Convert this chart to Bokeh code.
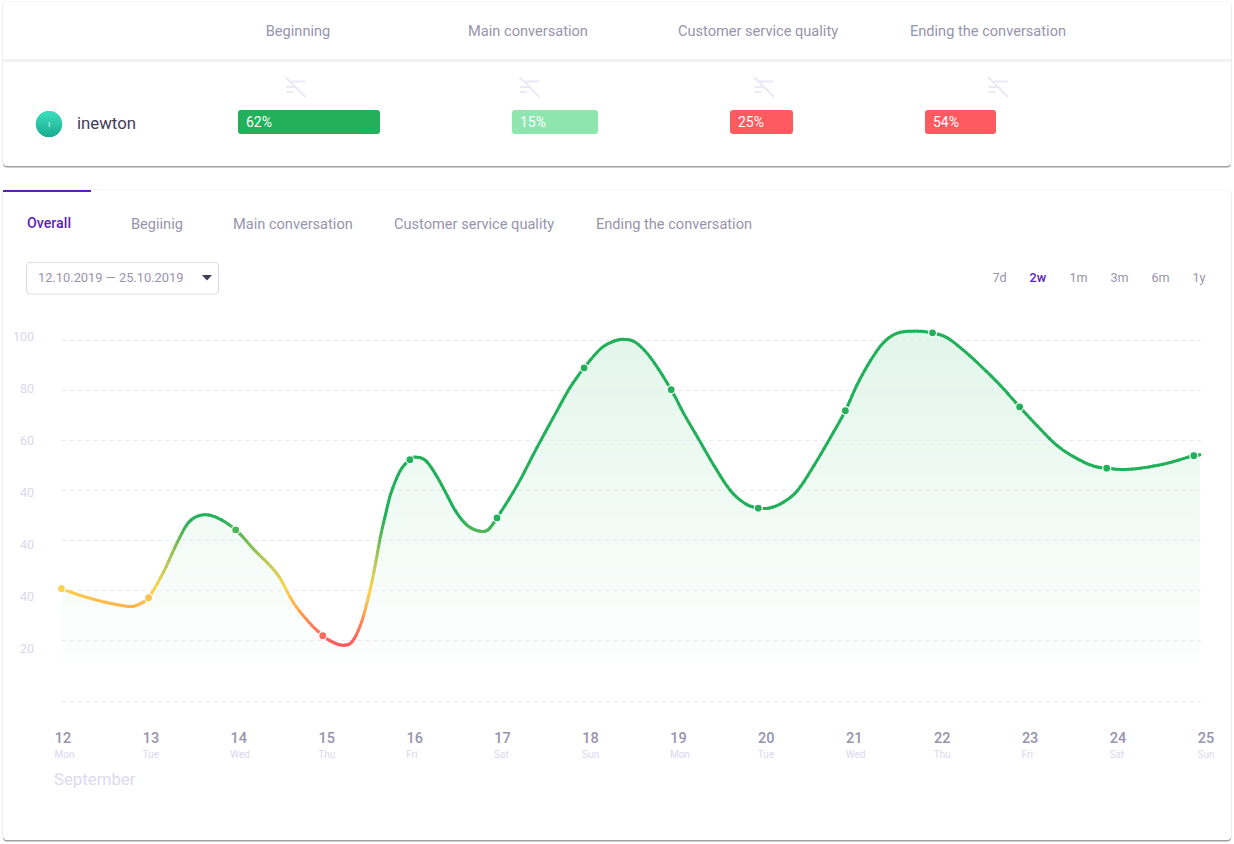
import numpy as np
from bokeh.core.properties import value
from bokeh.embed import file_html
from bokeh.models import ColumnDataSource, LinearColorMapper, Range1d
from bokeh.plotting import figure
from bokeh.resources import INLINE

# ---------- data ----------
columns = ["Beginning", "Main conversation", "Customer service quality", "Ending the conversation"]
agent = "inewton"
scores = [62, 15, 25, 54]
tabs = ["Begiinig", "Main conversation", "Customer service quality", "Ending the conversation"]
periods = ["7d", "2w", "1m", "3m", "6m", "1y"]
date_span = "12.10.2019 \u2014 25.10.2019"
month = "September"

days = [12, 13, 14, 15, 16, 17, 18, 19, 20, 21, 22, 23, 24, 25]
weekdays = ["Mon", "Tue", "Wed", "Thu", "Fri", "Sat", "Sun", "Mon", "Tue", "Wed", "Thu", "Fri", "Sat", "Sun"]
day_values = [33.8, 31.4, 49.5, 21.3, 68.2, 52.7, 92.7, 86.9, 55.3, 81.3, 102.05, 82.3, 65.95, 69.3]

y_tick_labels = ["100", "80", "60", "40", "40", "40", "20"]
y_tick_slots = [0, 1, 2, 3, 4, 5, 6]
grid_levels = [100, 86.67, 73.33, 60, 46.67, 33.33, 20, 3.73]

curve_days = [12.00, 12.22, 12.45, 12.65, 12.81, 12.91, 13.00, 13.17, 13.33, 13.46, 13.62, 13.79, 14.00,
              14.20, 14.48, 14.66, 14.84, 15.00, 15.12, 15.24, 15.34, 15.45, 15.55, 15.61, 15.66, 15.72,
              15.78, 15.89, 16.00, 16.06, 16.18, 16.29, 16.41, 16.52, 16.64, 16.75, 16.85, 16.91, 17.00,
              17.23, 17.46, 17.69, 17.84, 18.00, 18.19, 18.34, 18.46, 18.59, 18.76, 19.00, 19.14, 19.31,
              19.49, 19.68, 19.85, 20.00, 20.14, 20.29, 20.45, 20.64, 20.83, 21.00, 21.13, 21.29, 21.44,
              21.59, 21.79, 22.00, 22.17, 22.36, 22.51, 22.78, 23.00, 23.20, 23.43, 23.66, 23.85, 24.00,
              24.20, 24.43, 24.70, 25.00, 25.07]
curve_values = [33.8, 32.0, 30.5, 29.5, 29.1, 29.9, 31.4, 38.2, 46.2, 51.5, 53.5, 52.7, 49.5,
                44.5, 37.6, 30.2, 24.9, 21.3, 19.5, 18.75, 19.8, 25.3, 34.2, 41.1, 47.5, 53.6,
                59.1, 65.3, 68.2, 68.9, 68.0, 64.5, 59.5, 54.7, 51.1, 49.5, 49.1, 49.8, 52.7,
                61.3, 71.5, 81.3, 87.5, 92.7, 97.8, 99.8, 100.3, 99.5, 95.5, 86.9, 80.7, 73.9,
                66.7, 60.0, 56.5, 55.3, 55.4, 56.9, 60.0, 66.7, 74.2, 81.3, 88.0, 94.7, 99.5,
                101.9, 102.5, 102.05, 100.7, 97.3, 94.2, 88.0, 82.3, 77.3, 72.0, 68.5, 66.5, 65.95,
                65.6, 66.1, 67.3, 69.3, 69.5]

# ---------- page layout ----------
W, H = 1234, 844
DAY_PX, DAY0_PX = 87.1, 61.0
VAL_PX, VAL100_PX = 3.75, 340.0
INK, MUTED, FAINT, PURPLE = "#3f3c58", "#9794ad", "#dcd9ef", "#5a1fc0"
GREEN = "#22b05a"
FONT = "Roboto"
MEDIUM = "Roboto Medium"

p = figure(width=W, height=H, output_backend="svg", toolbar_location=None,
           x_axis_type=None, y_axis_type=None, min_border=0, outline_line_color=None,
           border_fill_color="white", background_fill_color="white",
           x_range=Range1d(12 - DAY0_PX / DAY_PX, 12 + (W - DAY0_PX) / DAY_PX),
           y_range=Range1d(100 - (H - VAL100_PX) / VAL_PX, 100 + VAL100_PX / VAL_PX))
p.extra_x_ranges = {
    "px": Range1d(0.5, W + 0.5),
    "xlab": Range1d(12 - 62.5 / 87.92, 12 + (W - 62.5) / 87.92),
}
p.extra_y_ranges = {
    "px": Range1d(H + 0.5, 0.5),
    "ylab": Range1d((H - 336) / 52, -336 / 52),
}
PX = dict(x_range_name="px", y_range_name="px")


def card(l, t, r, b):
    p.quad(left=[l - 1], right=[r + 1], top=[t - 0.5], bottom=[b + 1], fill_color="#eeeeee", line_color=None,
           border_radius=5, **PX)
    p.quad(left=[l], right=[r], top=[t + 4], bottom=[b + 1.4], fill_color="#a0a0a0", line_color=None,
           border_radius=4, **PX)
    p.quad(left=[l], right=[r], top=[t], bottom=[b], fill_color="white", line_color=None,
           border_radius=4, **PX)


def txt(x, y, s, size, color, font=FONT, align="left"):
    p.text(x=[x], y=[y], text=[s], text_font=value(font), text_font_size=f"{size}px", text_color=color,
           text_align=align, text_baseline="middle", **PX)


# ---------- top card ----------
card(3, 2, 1231, 166)
p.quad(left=[3], right=[1231], top=[59.5], bottom=[61], fill_color="#ececf0", line_color=None, **PX)
p.quad(left=[3], right=[1231], top=[61], bottom=[62.5], fill_color="#f8f8fa", line_color=None, **PX)
for s, cx in zip(columns, [298, 528, 758, 988]):
    txt(cx, 31.2, s, 14.6, MUTED, align="center")

for ix in [295.5, 529.5, 764, 998]:
    p.multi_line(xs=[[ix - 10, ix + 10], [ix - 4, ix + 9.5], [ix - 9.5, ix], [ix - 9.5, ix - 2.5]],
                 ys=[[77, 97], [81.5, 81.5], [87, 87], [92, 92]], line_color="#ebe9f5", line_width=2, **PX)

avatar_rows = np.arange(110.5, 137.5, 1.0)
avatar_half = np.sqrt(np.clip(13.2 ** 2 - (avatar_rows - 124) ** 2, 0, None))
avatar_t = (avatar_rows - 110.5) / 26.0
avatar_cols = ["#%02x%02x%02x" % (int(62 - 36 * t), int(224 - 52 * t), int(192 - 46 * t)) for t in avatar_t]
p.quad(left=49 - avatar_half, right=49 + avatar_half, top=avatar_rows - 0.6, bottom=avatar_rows + 0.6,
       fill_color=avatar_cols, line_color=None, **PX)
txt(49, 124, "I", 8, "#e6fbf6", align="center")
txt(77, 123.2, agent, 16.8, INK)

bar_left = [238, 512, 730, 925]
bar_right = [380, 598, 793, 996]
bar_colors = [GREEN, "#8fe5ae", "#ff5a5f", "#ff5a5f"]
p.quad(left=bar_left, right=bar_right, top=[110] * 4, bottom=[134] * 4, fill_color=bar_colors,
       line_color=None, border_radius=3, **PX)
for v, l in zip(scores, bar_left):
    txt(l + 8, 121.8, f"{v}%", 14, "white")

# ---------- bottom card ----------
card(3, 190, 1231, 840)
p.quad(left=[3], right=[91], top=[190], bottom=[192], fill_color=PURPLE, line_color=None, **PX)
txt(27, 223, "Overall", 14.2, PURPLE, font=MEDIUM)
for s, x in zip(tabs, [131, 233, 394, 596]):
    txt(x, 224.2, s, 14.6, MUTED)

p.quad(left=[26.5], right=[218.5], top=[262.5], bottom=[294], fill_color="white", line_color="#dcdcf0",
       line_width=1.2, border_radius=4, **PX)
txt(38, 277.8, date_span, 12.85, MUTED)
p.patch(x=[202, 212, 207], y=[275, 275, 280.5], fill_color=INK, line_color=None, **PX)
for s, x in zip(periods, [992.5, 1029.5, 1069.5, 1110.5, 1151.5, 1192.5]):
    active = s == "2w"
    txt(x, 277.8, s, 12.6, PURPLE if active else MUTED, font=MEDIUM if active else FONT)

# ---------- gradient fill under the curve ----------
x_knots = np.array(curve_days)
y_knots = np.array(curve_values)
slopes = np.gradient(y_knots, x_knots, edge_order=1)
slopes[1:-1] = (y_knots[2:] - y_knots[:-2]) / (x_knots[2:] - x_knots[:-2])
h = np.diff(x_knots)

TOP_V, BOT_V = 102.8, 8.8
edges = np.arange(BOT_V, TOP_V, 0.54)
frac = np.clip((edges + 0.27 - BOT_V) / (100 - BOT_V), 0, 1)
band_cols = ["#%02x%02x%02x" % (round(255 - 28 * f), round(255 - 9 * f), round(255 - 20 * f)) for f in frac]
p.quad(left=12, right=curve_days[-1], bottom=edges, top=edges + 0.7, fill_color=band_cols, line_color=None)


# one cubic per pair of read points; split so that the colour can follow the height
def cubic(i, t):
    a = (2 * t ** 3 - 3 * t ** 2 + 1) * y_knots[i] + (t ** 3 - 2 * t ** 2 + t) * h[i] * slopes[i]
    b = (-2 * t ** 3 + 3 * t ** 2) * y_knots[i + 1] + (t ** 3 - t ** 2) * h[i] * slopes[i + 1]
    return a + b


def cubic_slope(i, t):
    a = (6 * t ** 2 - 6 * t) * y_knots[i] / h[i] + (3 * t ** 2 - 4 * t + 1) * slopes[i]
    b = (-6 * t ** 2 + 6 * t) * y_knots[i + 1] / h[i] + (3 * t ** 2 - 2 * t) * slopes[i + 1]
    return a + b


SPLIT = 5
sx, sy, sm = [], [], []
for i in range(len(h)):
    t = np.linspace(0, 1, SPLIT, endpoint=False)
    sx.extend(x_knots[i] + t * h[i])
    sy.extend(cubic(i, t))
    sm.extend(cubic_slope(i, t))
sx.append(x_knots[-1])
sy.append(y_knots[-1])
sm.append(slopes[-1])
sx, sy, sm = np.array(sx), np.array(sy), np.array(sm)
sh = np.diff(sx)

# white above the curve, a hair wider than the fill so no edge bleeds
p.varea(x=np.r_[sx[0] - 0.03, sx, sx[-1] + 0.03], y1=np.r_[sy[0], sy, sy[-1]], y2=TOP_V + 2, fill_color="white")

# ---------- grid ----------
p.segment(x0=[12] * len(grid_levels), x1=[25.08] * len(grid_levels), y0=grid_levels, y1=grid_levels,
          line_color="#e6e8f7", line_width=1, line_dash={"value": [4, 4]})

# ---------- curve ----------
mapper = LinearColorMapper(
    palette=["#%02x%02x%02x" % tuple(int(round(np.interp(k, [19, 24, 29, 34, 41, 48, 53],
                                                         [[255, 255, 255, 250, 185, 98, 34],
                                                          [90, 125, 179, 212, 201, 185, 176],
                                                          [95, 85, 77, 77, 85, 87, 90]][c])))
                                     for c in range(3))
             for k in np.linspace(19, 53, 96)],
    low=19, high=53)
seg = ColumnDataSource(dict(
    x0=sx[:-1], y0=sy[:-1], x1=sx[1:], y1=sy[1:],
    cx0=sx[:-1] + sh / 3, cy0=sy[:-1] + sm[:-1] * sh / 3,
    cx1=sx[1:] - sh / 3, cy1=sy[1:] - sm[1:] * sh / 3,
    mid=(sy[:-1] + sy[1:]) / 2))
p.bezier(x0="x0", y0="y0", x1="x1", y1="y1", cx0="cx0", cy0="cy0", cx1="cx1", cy1="cy1", source=seg,
         line_color={"field": "mid", "transform": mapper}, line_width=3, line_cap="round")
pts = ColumnDataSource(dict(day=days, value=day_values))
p.scatter(x="day", y="value", source=pts, size=8, line_color="white", line_width=1.2,
          fill_color={"field": "value", "transform": mapper})

# ---------- tick labels, placed through their own scales ----------
p.text(x=[34] * len(y_tick_slots), y=y_tick_slots, text=y_tick_labels, x_range_name="px", y_range_name="ylab",
       text_font=value(FONT), text_font_size="12.5px", text_color="#dad7ee", text_align="right",
       text_baseline="middle")
p.text(x=days, y=[737.5] * len(days), text=[str(d) for d in days], x_range_name="xlab", y_range_name="px",
       text_font=value(MEDIUM), text_font_size="14.5px", text_color=MUTED, text_align="center",
       text_baseline="middle")
p.text(x=days, y=[754.5] * len(days), text=weekdays, x_offset=-8.5, x_range_name="xlab", y_range_name="px",
       text_font=value(FONT), text_font_size="10px", text_color="#dad7ee", text_baseline="middle", text_align="left")
txt(54, 779, month, 16.8, FAINT)

open("out.html", "w").write(file_html(p, INLINE))
